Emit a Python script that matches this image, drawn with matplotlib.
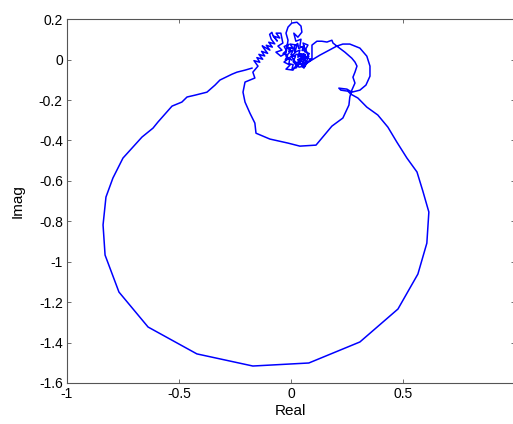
import matplotlib
matplotlib.use("Agg")
import matplotlib.pyplot as plt
from matplotlib.ticker import FuncFormatter

plt.rcParams['font.family'] = ['Liberation Sans', 'DejaVu Sans']
plt.rcParams['axes.unicode_minus'] = False

# noisy part near the origin
cluster_a_re = [0.004, -0.022, 0.000, -0.018, 0.013, -0.004, 0.027, 0.018, 0.040, 0.031,
                0.058, 0.045, 0.018, 0.036, 0.063, 0.054, 0.076, 0.067, 0.094]
cluster_a_im = [-0.002, 0.017, 0.042, 0.062, 0.052, 0.077, 0.072, 0.037, 0.047, 0.012,
                0.027, -0.007, -0.017, -0.037, -0.032, 0.002, 0.012, -0.022, 0.007]

step_re = [0.094, 0.116, 0.138, 0.161, 0.183, 0.188, 0.205]
step_im = [0.072, 0.091, 0.091, 0.087, 0.096, 0.082, 0.067]

inner_re = [0.241, 0.272, 0.286, 0.295, 0.286, 0.277, 0.286, 0.272, 0.263, 0.259,
            0.232, 0.183, 0.112, 0.040, -0.013, -0.094, -0.156, -0.161, -0.183, -0.205,
            -0.214, -0.205, -0.161, -0.170, -0.147]
inner_im = [0.037, 0.007, -0.012, -0.032, -0.062, -0.087, -0.116, -0.151, -0.185, -0.225,
            -0.289, -0.329, -0.423, -0.428, -0.413, -0.393, -0.364, -0.314, -0.265, -0.210,
            -0.161, -0.111, -0.091, -0.062, -0.032]

# left arm of the noisy part
arm_re = [-0.150, -0.165, -0.139, -0.152, -0.126, -0.143, -0.117, -0.131, -0.104, -0.121,
          -0.128, -0.118, -0.094, -0.110, -0.083, -0.099, -0.072, -0.088, -0.095, -0.085,
          -0.080, -0.061, -0.077, -0.050, -0.066, -0.045]
arm_im = [-0.028, -0.005, -0.013, 0.010, 0.002, 0.026, 0.018, 0.041, 0.031, 0.056,
          0.068, 0.062, 0.047, 0.071, 0.062, 0.086, 0.078, 0.101, 0.125, 0.135,
          0.118, 0.092, 0.116, 0.107, 0.131, 0.131]

# top small loop and dense centre
centre_re = [-0.036, -0.058, -0.040, -0.067, -0.045, -0.022, -0.013, -0.022, -0.013, 0.004,
             0.027, 0.045, 0.049, 0.031, 0.013, 0.022, 0.045, 0.040, 0.063, 0.054,
             0.076, 0.060, 0.082, 0.070, 0.090, 0.075, 0.055, 0.065, 0.040, 0.050,
             0.030, 0.045, 0.025, 0.010, 0.020, 0.000, 0.010, -0.010, 0.000, -0.020,
             -0.010, -0.030, -0.020, -0.035, -0.015, -0.025, -0.005, -0.009, 0.010, 0.005,
             0.025, 0.035, 0.055, 0.050, 0.070, 0.060, 0.080, 0.066, 0.050, 0.058,
             0.035, 0.030, 0.015, 0.020, -0.009, -0.031, -0.004, -0.022, 0.009, 0.027,
             0.004, 0.027, 0.049, 0.036, 0.058, 0.071, 0.129, 0.205]
centre_im = [0.082, 0.067, 0.047, 0.037, 0.017, 0.032, 0.096, 0.131, 0.161, 0.181,
             0.185, 0.166, 0.136, 0.111, 0.131, 0.091, 0.101, 0.067, 0.052, 0.082,
             0.072, 0.040, 0.030, 0.010, 0.000, -0.015, 0.005, 0.025, 0.030, 0.010,
             0.000, -0.020, -0.030, -0.010, 0.015, 0.025, 0.045, 0.040, 0.060, 0.055,
             0.075, 0.065, 0.045, 0.030, 0.020, 0.000, 0.005, -0.020, -0.025, -0.045,
             -0.040, -0.015, -0.030, -0.008, -0.020, 0.015, 0.015, 0.050, 0.045, 0.068,
             0.055, 0.080, 0.065, 0.035, 0.007, -0.012, -0.027, -0.047, -0.052, -0.022,
             0.012, 0.027, 0.012, -0.012, -0.042, -0.017, 0.022, 0.067]

right_loop_re = [0.232, 0.263, 0.308, 0.339, 0.353, 0.353, 0.335, 0.308, 0.272,
                 0.250, 0.214, 0.223, 0.254, 0.268]
right_loop_im = [0.077, 0.077, 0.057, 0.017, -0.032, -0.082, -0.126, -0.151, -0.161,
                 -0.146, -0.141, -0.151, -0.156, -0.171]

big_re = [0.299, 0.339, 0.388, 0.433, 0.473, 0.518, 0.563, 0.589, 0.616, 0.607,
          0.567, 0.478, 0.308, 0.080, -0.170, -0.420, -0.638, -0.768, -0.830, -0.839,
          -0.826, -0.795, -0.750, -0.665, -0.616, -0.594, -0.531, -0.487, -0.464, -0.429,
          -0.393, -0.375, -0.339, -0.317, -0.263, -0.241, -0.205, -0.174]
big_im = [-0.190, -0.235, -0.274, -0.334, -0.408, -0.487, -0.556, -0.650, -0.754, -0.908,
          -1.061, -1.234, -1.397, -1.501, -1.516, -1.456, -1.323, -1.150, -0.967, -0.818,
          -0.680, -0.586, -0.487, -0.383, -0.339, -0.309, -0.230, -0.210, -0.185, -0.176,
          -0.166, -0.161, -0.126, -0.101, -0.072, -0.062, -0.052, -0.042]

xticks = [-1, -0.5, 0, 0.5]
yticks = [-1.6, -1.4, -1.2, -1, -0.8, -0.6, -0.4, -0.2, 0, 0.2]

re = cluster_a_re + step_re + inner_re + arm_re + centre_re + right_loop_re + big_re
im = cluster_a_im + step_im + inner_im + arm_im + centre_im + right_loop_im + big_im

fig = plt.figure(figsize=(5.13, 4.24), dpi=100)
ax = fig.add_axes([0.1306, 0.0967, 0.873, 0.858])
ax.plot(re, im, color='#0000ff', lw=1.1)

ax.set_xlim(-1, 1)
ax.set_ylim(-1.6, 0.2)
ax.set_xticks(xticks)
ax.set_yticks(yticks)
fmt = FuncFormatter(lambda v, p: '%g' % round(v, 2))
ax.xaxis.set_major_formatter(fmt)
ax.yaxis.set_major_formatter(fmt)
ax.tick_params(direction='in', length=3, width=0.6, color='#555555',
               labelsize=10, pad=3, top=True, right=True)
for s in ax.spines.values():
    s.set_color('#555555')
    s.set_linewidth(0.8)

ax.set_xlabel('Real', fontsize=11, labelpad=2)
ax.set_ylabel('Imag', fontsize=11, labelpad=10)

fig.savefig('out.png', dpi=100)
